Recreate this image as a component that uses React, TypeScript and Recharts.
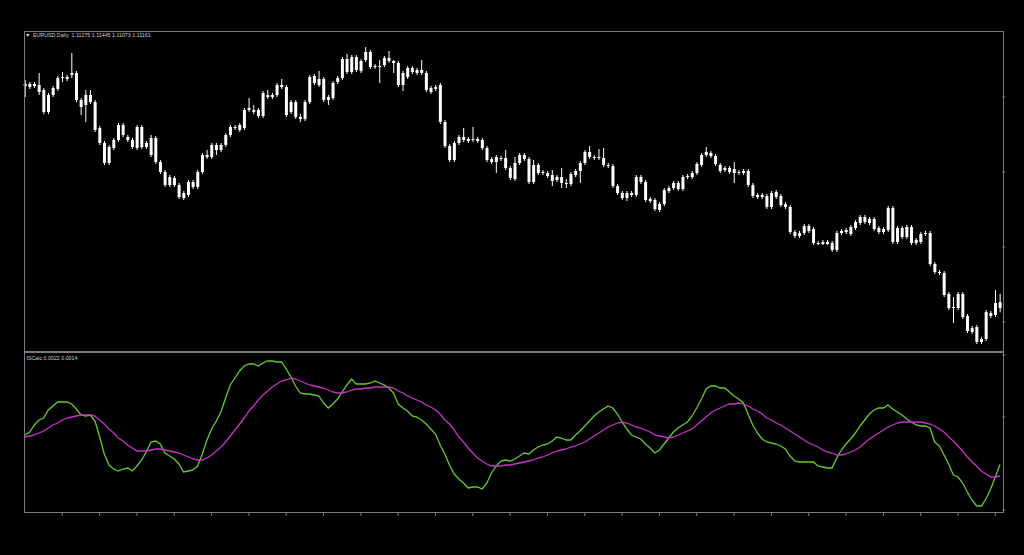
import React from 'react';
import { ComposedChart, Bar, LineChart, Line, XAxis, YAxis } from 'recharts';

// EURUSD daily candles (oldest first)
const open = [
    1.1564, 1.1558, 1.1564, 1.1562, 1.1552, 1.1508, 1.1542, 1.1554, 1.1576, 1.1574,
    1.1586, 1.1586, 1.1518, 1.1522, 1.1542, 1.1528, 1.1476, 1.1446, 1.1406, 1.1436,
    1.1452, 1.1482, 1.1458, 1.1452, 1.1436, 1.1478, 1.1438, 1.1456, 1.1456, 1.1408,
    1.1388, 1.1378, 1.1376, 1.1362, 1.1346, 1.1342, 1.1358, 1.1358, 1.1388, 1.1418,
    1.1418, 1.1432, 1.1432, 1.1442, 1.1462, 1.1476, 1.1472, 1.1476, 1.1512, 1.1512,
    1.1512, 1.1500, 1.1542, 1.1538, 1.1542, 1.1562, 1.1558, 1.1528, 1.1528, 1.1494,
    1.1494, 1.1528, 1.1580, 1.1574, 1.1574, 1.1532, 1.1536, 1.1568, 1.1576, 1.1588,
    1.1618, 1.1592, 1.1610, 1.1612, 1.1628, 1.1600, 1.1598, 1.1602, 1.1616, 1.1610,
    1.1606, 1.1562, 1.1578, 1.1596, 1.1592, 1.1586, 1.1586, 1.1556, 1.1554, 1.1562,
    1.1488, 1.1440, 1.1412, 1.1446, 1.1458, 1.1454, 1.1452, 1.1454, 1.1452, 1.1436,
    1.1414, 1.1408, 1.1416, 1.1416, 1.1396, 1.1374, 1.1406, 1.1422, 1.1414, 1.1368,
    1.1402, 1.1388, 1.1386, 1.1382, 1.1372, 1.1378, 1.1366, 1.1364, 1.1382, 1.1390,
    1.1406, 1.1428, 1.1418, 1.1416, 1.1416, 1.1402, 1.1400, 1.1360, 1.1346, 1.1336,
    1.1346, 1.1342, 1.1378, 1.1368, 1.1334, 1.1332, 1.1312, 1.1324, 1.1350, 1.1356,
    1.1366, 1.1354, 1.1378, 1.1378, 1.1386, 1.1402, 1.1422, 1.1426, 1.1420, 1.1402,
    1.1392, 1.1396, 1.1394, 1.1388, 1.1386, 1.1390, 1.1362, 1.1342, 1.1338, 1.1340,
    1.1318, 1.1348, 1.1340, 1.1324, 1.1318, 1.1268, 1.1260, 1.1266, 1.1280, 1.1274,
    1.1246, 1.1244, 1.1248, 1.1246, 1.1232, 1.1266, 1.1268, 1.1264, 1.1276, 1.1286,
    1.1298, 1.1294, 1.1294, 1.1276, 1.1268, 1.1272, 1.1316, 1.1248, 1.1276, 1.1258,
    1.1278, 1.1246, 1.1248, 1.1264, 1.1266, 1.1204, 1.1188, 1.1186, 1.1144, 1.1116,
    1.1116, 1.1144, 1.1100, 1.1076, 1.1078, 1.1048, 1.1054, 1.1106, 1.1102, 1.11275,
];
const high = [
    1.1572, 1.1568, 1.1568, 1.1586, 1.1556, 1.1546, 1.1560, 1.1580, 1.1588, 1.1582,
    1.1626, 1.1590, 1.1536, 1.1552, 1.1552, 1.1532, 1.1480, 1.1450, 1.1442, 1.1456,
    1.1486, 1.1486, 1.1462, 1.1456, 1.1482, 1.1482, 1.1450, 1.1462, 1.1460, 1.1412,
    1.1392, 1.1382, 1.1380, 1.1366, 1.1350, 1.1372, 1.1372, 1.1392, 1.1426, 1.1432,
    1.1446, 1.1446, 1.1446, 1.1466, 1.1482, 1.1482, 1.1486, 1.1516, 1.1536, 1.1522,
    1.1516, 1.1550, 1.1552, 1.1546, 1.1566, 1.1574, 1.1562, 1.1532, 1.1532, 1.1504,
    1.1532, 1.1582, 1.1584, 1.1590, 1.1578, 1.1542, 1.1570, 1.1580, 1.1618, 1.1624,
    1.1622, 1.1622, 1.1614, 1.1638, 1.1632, 1.1604, 1.1612, 1.1620, 1.1630, 1.1612,
    1.1610, 1.1590, 1.1600, 1.1600, 1.1596, 1.1612, 1.1590, 1.1560, 1.1562, 1.1566,
    1.1492, 1.1444, 1.1450, 1.1462, 1.1476, 1.1458, 1.1478, 1.1458, 1.1456, 1.1440,
    1.1418, 1.1422, 1.1420, 1.1432, 1.1400, 1.1418, 1.1426, 1.1426, 1.1418, 1.1412,
    1.1406, 1.1392, 1.1390, 1.1392, 1.1382, 1.1396, 1.1374, 1.1388, 1.1394, 1.1410,
    1.1432, 1.1440, 1.1422, 1.1434, 1.1436, 1.1406, 1.1404, 1.1364, 1.1350, 1.1350,
    1.1350, 1.1382, 1.1382, 1.1372, 1.1338, 1.1336, 1.1328, 1.1356, 1.1360, 1.1370,
    1.1370, 1.1382, 1.1384, 1.1390, 1.1408, 1.1426, 1.1438, 1.1430, 1.1424, 1.1406,
    1.1400, 1.1400, 1.1408, 1.1392, 1.1394, 1.1394, 1.1366, 1.1346, 1.1346, 1.1344,
    1.1350, 1.1352, 1.1344, 1.1328, 1.1322, 1.1272, 1.1270, 1.1284, 1.1284, 1.1278,
    1.1250, 1.1252, 1.1252, 1.1250, 1.1270, 1.1274, 1.1276, 1.1282, 1.1292, 1.1302,
    1.1302, 1.1298, 1.1298, 1.1280, 1.1278, 1.1320, 1.1320, 1.1280, 1.1280, 1.1282,
    1.1282, 1.1256, 1.1268, 1.1270, 1.1270, 1.1208, 1.1192, 1.1190, 1.1148, 1.1138,
    1.1148, 1.1148, 1.1104, 1.1080, 1.1082, 1.1058, 1.1112, 1.1110, 1.1152, 1.11445,
];
const low = [
    1.1538, 1.1554, 1.1556, 1.1542, 1.1504, 1.1504, 1.1538, 1.1550, 1.1568, 1.1570,
    1.1576, 1.1528, 1.1502, 1.1488, 1.1524, 1.1468, 1.1442, 1.1402, 1.1402, 1.1432,
    1.1448, 1.1458, 1.1448, 1.1434, 1.1432, 1.1434, 1.1434, 1.1418, 1.1404, 1.1384,
    1.1358, 1.1358, 1.1358, 1.1334, 1.1332, 1.1338, 1.1354, 1.1354, 1.1384, 1.1414,
    1.1414, 1.1422, 1.1428, 1.1438, 1.1458, 1.1472, 1.1468, 1.1472, 1.1508, 1.1504,
    1.1496, 1.1496, 1.1534, 1.1534, 1.1538, 1.1554, 1.1498, 1.1504, 1.1494, 1.1488,
    1.1490, 1.1524, 1.1562, 1.1558, 1.1528, 1.1522, 1.1532, 1.1564, 1.1572, 1.1584,
    1.1584, 1.1588, 1.1586, 1.1608, 1.1594, 1.1594, 1.1566, 1.1598, 1.1606, 1.1586,
    1.1558, 1.1550, 1.1574, 1.1584, 1.1582, 1.1582, 1.1548, 1.1544, 1.1550, 1.1484,
    1.1436, 1.1408, 1.1408, 1.1442, 1.1448, 1.1446, 1.1448, 1.1446, 1.1432, 1.1408,
    1.1404, 1.1386, 1.1410, 1.1392, 1.1372, 1.1370, 1.1402, 1.1410, 1.1364, 1.1364,
    1.1382, 1.1382, 1.1376, 1.1360, 1.1368, 1.1356, 1.1356, 1.1360, 1.1378, 1.1366,
    1.1402, 1.1414, 1.1412, 1.1412, 1.1398, 1.1396, 1.1356, 1.1342, 1.1332, 1.1330,
    1.1338, 1.1338, 1.1364, 1.1328, 1.1326, 1.1310, 1.1308, 1.1320, 1.1346, 1.1352,
    1.1350, 1.1350, 1.1374, 1.1374, 1.1382, 1.1398, 1.1418, 1.1416, 1.1400, 1.1386,
    1.1388, 1.1384, 1.1366, 1.1382, 1.1382, 1.1358, 1.1336, 1.1334, 1.1334, 1.1314,
    1.1314, 1.1334, 1.1318, 1.1314, 1.1264, 1.1256, 1.1256, 1.1262, 1.1266, 1.1242,
    1.1242, 1.1242, 1.1242, 1.1228, 1.1228, 1.1262, 1.1264, 1.1260, 1.1272, 1.1282,
    1.1284, 1.1282, 1.1270, 1.1264, 1.1264, 1.1268, 1.1244, 1.1244, 1.1254, 1.1254,
    1.1242, 1.1242, 1.1244, 1.1260, 1.1200, 1.1184, 1.1182, 1.1138, 1.1112, 1.1086,
    1.1112, 1.1094, 1.1066, 1.1064, 1.1044, 1.1044, 1.1050, 1.1096, 1.1098, 1.11073,
];
const close = [
    1.1560, 1.1564, 1.1560, 1.1548, 1.1508, 1.1542, 1.1556, 1.1576, 1.1578, 1.1578,
    1.1582, 1.1532, 1.1532, 1.1542, 1.1528, 1.1472, 1.1446, 1.1406, 1.1438, 1.1452,
    1.1482, 1.1462, 1.1452, 1.1438, 1.1478, 1.1438, 1.1446, 1.1422, 1.1408, 1.1388,
    1.1362, 1.1362, 1.1362, 1.1338, 1.1336, 1.1368, 1.1368, 1.1388, 1.1422, 1.1422,
    1.1442, 1.1442, 1.1442, 1.1462, 1.1478, 1.1478, 1.1482, 1.1512, 1.1516, 1.1508,
    1.1500, 1.1546, 1.1538, 1.1542, 1.1562, 1.1558, 1.1502, 1.1508, 1.1498, 1.1498,
    1.1528, 1.1578, 1.1566, 1.1562, 1.1532, 1.1538, 1.1566, 1.1576, 1.1614, 1.1614,
    1.1588, 1.1618, 1.1590, 1.1628, 1.1598, 1.1598, 1.1600, 1.1616, 1.1610, 1.1606,
    1.1562, 1.1586, 1.1596, 1.1588, 1.1586, 1.1592, 1.1552, 1.1548, 1.1558, 1.1488,
    1.1440, 1.1412, 1.1446, 1.1458, 1.1452, 1.1450, 1.1454, 1.1450, 1.1436, 1.1412,
    1.1408, 1.1418, 1.1414, 1.1396, 1.1376, 1.1406, 1.1422, 1.1414, 1.1368, 1.1402,
    1.1386, 1.1386, 1.1380, 1.1370, 1.1378, 1.1366, 1.1364, 1.1384, 1.1390, 1.1406,
    1.1428, 1.1418, 1.1416, 1.1418, 1.1402, 1.1400, 1.1360, 1.1346, 1.1336, 1.1346,
    1.1342, 1.1378, 1.1368, 1.1332, 1.1330, 1.1314, 1.1324, 1.1352, 1.1356, 1.1366,
    1.1354, 1.1378, 1.1380, 1.1386, 1.1404, 1.1422, 1.1428, 1.1420, 1.1404, 1.1390,
    1.1396, 1.1388, 1.1386, 1.1386, 1.1390, 1.1362, 1.1340, 1.1338, 1.1342, 1.1318,
    1.1346, 1.1338, 1.1322, 1.1318, 1.1268, 1.1260, 1.1266, 1.1280, 1.1270, 1.1246,
    1.1244, 1.1248, 1.1244, 1.1232, 1.1266, 1.1270, 1.1272, 1.1278, 1.1288, 1.1298,
    1.1288, 1.1286, 1.1274, 1.1268, 1.1274, 1.1316, 1.1248, 1.1276, 1.1258, 1.1278,
    1.1246, 1.1252, 1.1264, 1.1266, 1.1204, 1.1188, 1.1186, 1.1142, 1.1116, 1.1118,
    1.1144, 1.1098, 1.1070, 1.1068, 1.1048, 1.1054, 1.1108, 1.1100, 1.1126, 1.11161,
];

// ISCalc indicator buffers, in points (0.00001)
const iscalcFast = [
    427, 448, 497, 532, 546, 602, 630, 658, 658, 658,
    644, 609, 567, 560, 567, 525, 413, 294, 217, 189,
    175, 189, 196, 175, 210, 252, 308, 378, 385, 364,
    301, 280, 259, 224, 168, 175, 182, 210, 294, 392,
    469, 525, 588, 686, 777, 826, 875, 910, 924, 924,
    910, 931, 945, 945, 938, 938, 889, 833, 770, 721,
    714, 714, 707, 700, 651, 616, 644, 679, 728, 777,
    819, 784, 784, 784, 791, 805, 791, 777, 756, 721,
    644, 616, 595, 560, 553, 532, 504, 469, 434, 357,
    294, 217, 154, 119, 91, 56, 63, 63, 49, 91,
    161, 210, 245, 252, 245, 259, 280, 301, 294, 322,
    343, 357, 364, 385, 413, 406, 392, 392, 427, 455,
    490, 525, 560, 588, 609, 630, 616, 574, 518, 469,
    427, 413, 399, 364, 336, 301, 322, 364, 406, 448,
    476, 497, 518, 560, 616, 679, 749, 770, 770, 756,
    756, 728, 700, 679, 651, 574, 497, 441, 399, 378,
    371, 364, 350, 329, 280, 245, 238, 238, 238, 238,
    210, 203, 196, 196, 266, 322, 364, 399, 441, 490,
    532, 574, 602, 616, 616, 637, 609, 588, 567, 539,
    518, 497, 490, 490, 476, 378, 350, 287, 224, 147,
    133, 91, 28, -28, -70, -70, -21, 49, 133, 220,
];
const iscalcSlow = [
    413, 420, 427, 441, 455, 476, 497, 511, 532, 546,
    553, 560, 567, 567, 567, 560, 532, 504, 469, 441,
    406, 385, 357, 336, 315, 315, 315, 322, 329, 329,
    322, 315, 308, 301, 287, 273, 259, 252, 252, 266,
    287, 315, 343, 378, 420, 462, 504, 546, 595, 630,
    672, 707, 735, 763, 784, 805, 812, 826, 819, 805,
    791, 777, 770, 763, 756, 742, 728, 721, 721, 728,
    742, 749, 749, 756, 756, 763, 763, 763, 763, 756,
    735, 721, 700, 686, 672, 658, 637, 623, 602, 574,
    532, 504, 462, 413, 378, 336, 301, 266, 245, 224,
    210, 210, 210, 217, 217, 224, 231, 238, 245, 252,
    266, 273, 287, 301, 315, 322, 329, 343, 350, 364,
    378, 399, 420, 441, 462, 483, 497, 511, 518, 511,
    497, 483, 476, 462, 448, 427, 420, 413, 406, 413,
    427, 441, 455, 469, 497, 525, 553, 581, 602, 616,
    630, 644, 644, 651, 644, 630, 609, 595, 574, 546,
    532, 511, 497, 476, 455, 434, 413, 392, 371, 357,
    343, 322, 308, 301, 287, 287, 294, 308, 322, 343,
    371, 399, 420, 441, 462, 483, 497, 511, 518, 518,
    518, 518, 518, 511, 504, 490, 469, 448, 413, 385,
    350, 315, 273, 238, 210, 175, 154, 133, 133, 140,
];

const priceTicks = [1.1538, 1.1388, 1.1238, 1.1088];
const oscTicks = [0.00987, 0.00553, -0.00098];
const timeTicks = [9, 17, 25, 33, 41, 49, 57, 65, 73, 81, 89, 97, 105, 113, 121, 129, 137, 145, 153, 161, 169, 177, 185, 193, 201, 209];

const candles = open.map((o, i) => ({
    n: i + 1,
    open: o,
    high: high[i],
    low: low[i],
    close: close[i],
    fast: iscalcFast[i] / 100000,
    slow: iscalcSlow[i] / 100000,
}));

const FRAME = '#7c7c7c';
const TEXT = '#cfcfcf';

function Candle(props: any) {
    const { x, y, width, height, payload } = props;
    if (x == null || y == null) return null;
    const top = Math.min(y, y + height);
    const h = Math.abs(height);
    const span = payload.high - payload.low || 1;
    const toY = (p: number) => top + ((payload.high - p) / span) * h;
    const bodyTop = toY(Math.max(payload.open, payload.close));
    const bodyBottom = toY(Math.min(payload.open, payload.close));
    const cx = x + width / 2;
    return (
        <g>
            <line x1={cx} x2={cx} y1={top} y2={top + h} stroke="#ffffff" strokeWidth={1} />
            <rect x={x} y={bodyTop} width={width} height={Math.max(bodyBottom - bodyTop, 1)} fill="#ffffff" />
        </g>
    );
}

const label: React.CSSProperties = {
    position: 'absolute',
    fontFamily: '"Liberation Sans", Arial, sans-serif',
    fontSize: 5.3,
    lineHeight: '5.3px',
    color: TEXT,
    whiteSpace: 'pre',
};

export default function App() {
    return (
        <div style={{ position: 'absolute', left: 0, top: 0, width: 1024, height: 555, background: '#000', overflow: 'hidden' }}>
            <div style={{ position: 'absolute', left: 0, top: 0 }}>
                <ComposedChart width={1024} height={352} data={candles} margin={{ top: 31, right: 20.68, bottom: 0, left: 22.67 }}>
                    <XAxis dataKey="n" hide />
                    <YAxis
                        orientation="right"
                        width={1}
                        domain={[1.1028, 1.167]}
                        allowDataOverflow
                        ticks={priceTicks}
                        tickSize={3}
                        axisLine={false}
                        tickLine={{ stroke: FRAME }}
                        tickFormatter={() => ''}
                    />
                    <Bar dataKey={(d: any) => [d.low, d.high]} shape={Candle} barSize={3} isAnimationActive={false} />
                </ComposedChart>
            </div>
            <div style={{ position: 'absolute', left: 0, top: 352 }}>
                <LineChart width={1024} height={190} data={candles} margin={{ top: 1, right: 20.68, bottom: 0, left: 22.67 }}>
                    <XAxis
                        dataKey="n"
                        height={29}
                        padding={{ left: 2.33, right: 2.33 }}
                        ticks={timeTicks}
                        interval={0}
                        tickSize={3}
                        axisLine={false}
                        tickLine={{ stroke: FRAME }}
                        tickFormatter={() => ''}
                    />
                    <YAxis
                        orientation="right"
                        width={1}
                        domain={[-0.00119, 0.01001]}
                        allowDataOverflow
                        ticks={oscTicks}
                        tickSize={3}
                        axisLine={false}
                        tickLine={{ stroke: FRAME }}
                        tickFormatter={() => ''}
                    />
                    <Line type="linear" dataKey="fast" stroke="#66cc2e" strokeWidth={1.3} dot={false} isAnimationActive={false} />
                    <Line type="linear" dataKey="slow" stroke="#c832c8" strokeWidth={1.3} dot={false} isAnimationActive={false} />
                </LineChart>
            </div>

            {/* panel frames */}
            <div style={{ position: 'absolute', left: 24, top: 31, width: 980, height: 321, border: `1px solid ${FRAME}`, boxSizing: 'border-box' }} />
            <div style={{ position: 'absolute', left: 24, top: 352, width: 980, height: 161, border: `1px solid ${FRAME}`, boxSizing: 'border-box' }} />

            <svg style={{ position: 'absolute', left: 0, top: 0 }} width={40} height={40}>
                <polygon points="26,34 29.6,34 27.8,37" fill={TEXT} />
            </svg>
            <div style={{ ...label, left: 33, top: 32.5 }}>EURUSD,Daily  1.11275 1.11445 1.11073 1.11161</div>
            <div style={{ ...label, left: 26.5, top: 355.5 }}>ISCalc 0.0022 0.0014</div>
        </div>
    );
}
